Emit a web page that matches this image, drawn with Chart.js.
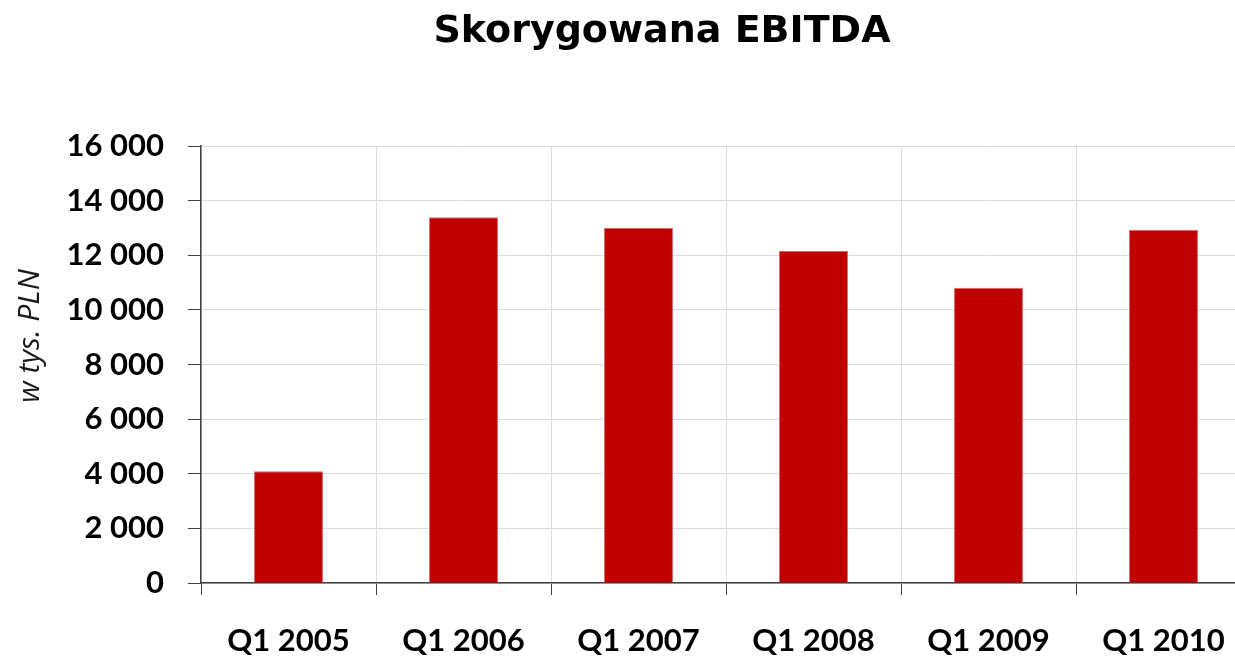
<!DOCTYPE html>
<html>
<head>
<meta charset="utf-8">
<script src="https://cdn.jsdelivr.net/npm/chart.js@4/dist/chart.umd.min.js"></script>
<style>
html,body{margin:0;padding:0;overflow:hidden;background:#fff;}
#wrap{width:1324px;height:660px;}
</style>
</head>
<body>
<div id="wrap"><canvas id="c" width="1324" height="660"></canvas></div>
<script>
const titleText = "Skorygowana EBITDA";
const axisTitle = "w tys. PLN";
const categories = ["Q1 2005", "Q1 2006", "Q1 2007", "Q1 2008", "Q1 2009", "Q1 2010"];
const ebitda = [4090, 13390, 13000, 12160, 10810, 12930];
const yMin = 0, yMax = 16000, yStep = 2000;

function fmt(v){ return String(v).replace(/\B(?=(\d{3})+(?!\d))/g, " "); }

const textPlugin = {
  id: 'textPlugin',
  afterDraw(chart){
    const ctx = chart.ctx;
    ctx.save();
    ctx.font = "bold 38px 'DejaVu Sans'";
    ctx.fillStyle = "#000";
    ctx.textAlign = "center";
    ctx.textBaseline = "alphabetic";
    ctx.fillText(titleText, 662, 42);
    ctx.restore();

    ctx.save();
    ctx.translate(30, 336);
    ctx.rotate(-Math.PI/2);
    ctx.font = "italic 30px 'Open Sans'";
    ctx.fillStyle = "#1a1a1a";
    ctx.textAlign = "center";
    ctx.textBaseline = "middle";
    ctx.fillText(axisTitle, 0, 0);
    ctx.restore();
  }
};

new Chart(document.getElementById('c'), {
  type: 'bar',
  data: {
    labels: categories,
    datasets: [{
      data: ebitda,
      backgroundColor: '#C00000',
      borderColor: '#d86a6a',
      borderWidth: 1,
      categoryPercentage: 1,
      barPercentage: 0.394
    }]
  },
  plugins: [textPlugin],
  options: {
    responsive: false,
    animation: false,
    layout: { padding: { left: 0, right: 73, top: 146, bottom: 0 } },
    plugins: {
      legend: { display: false },
      tooltip: { enabled: false },
      title: { display: false }
    },
    scales: {
      x: {
        grid: { display: true, offset: true, color: '#dcdcdc', tickColor: '#404040', tickLength: 12, drawTicks: true },
        border: { color: '#404040', width: 1.5 },
        ticks: { color: '#000', font: { family: 'Lato', size: 31, weight: 'bold' }, padding: 27, maxRotation: 0 },
        afterFit(s){ s.height = 77; }
      },
      y: {
        min: yMin, max: yMax,
        grid: { color: '#dcdcdc', tickColor: '#404040', tickLength: 13 },
        border: { color: '#404040', width: 1.5 },
        ticks: { stepSize: yStep, color: '#000', font: { family: 'Lato', size: 31, weight: 'bold' }, padding: 24, callback: v => fmt(v) },
        afterFit(s){ s.width = 201; }
      }
    }
  }
});
</script>
</body>
</html>
